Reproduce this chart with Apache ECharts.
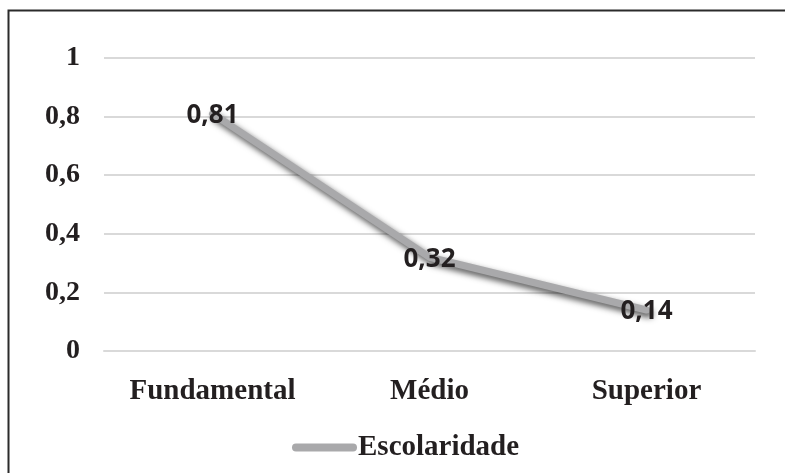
<!DOCTYPE html>
<html>
<head>
<meta charset="utf-8">
<script src="https://cdn.jsdelivr.net/npm/echarts@6/dist/echarts.min.js"></script>
<style>
  html, body { margin: 0; padding: 0; background: #fff; }
  #chart { width: 785px; height: 473px; }
</style>
</head>
<body>
<div id="chart"></div>
<script>
// Education level categories and their values
const categories = ['Fundamental', 'Médio', 'Superior'];
const values = [0.81, 0.32, 0.14];
const seriesName = 'Escolaridade';
const yTicks = [0, 0.2, 0.4, 0.6, 0.8, 1];

const serif = '"Liberation Serif", "Times New Roman", serif';
const fmt = v => String(v).replace('.', ',');

const chart = echarts.init(document.getElementById('chart'), null, { renderer: 'canvas' });

chart.setOption({
  backgroundColor: '#ffffff',
  animation: false,
  graphic: [{
    type: 'rect',
    left: 6, top: 8,
    shape: { width: 820, height: 520 },
    style: { fill: 'none', stroke: '#2b2b2b', lineWidth: 2 },
    silent: true
  }],
  grid: { left: 104, right: 30, top: 58, bottom: 122 },
  legend: {
    data: [seriesName],
    left: 287, top: 428,
    itemWidth: 57, itemHeight: 8,
    itemGap: 0,
    itemStyle: { color: '#a9a9ab', opacity: 0 },
    lineStyle: { width: 8, color: '#a9a9ab', shadowBlur: 0, shadowColor: 'transparent', shadowOffsetX: 0, shadowOffsetY: 0 },
    textStyle: { fontFamily: serif, fontWeight: 'bold', fontSize: 29, color: '#231f20' }
  },
  xAxis: {
    type: 'category',
    data: categories,
    boundaryGap: true,
    axisLine: { show: true, lineStyle: { color: '#d9d9d9', width: 2 } },
    axisTick: { show: false },
    axisLabel: { margin: 26, fontFamily: serif, fontWeight: 'bold', fontSize: 29, color: '#231f20' }
  },
  yAxis: {
    type: 'value',
    min: yTicks[0], max: yTicks[yTicks.length - 1], interval: 0.2,
    axisLine: { show: false },
    axisTick: { show: false },
    splitLine: { lineStyle: { color: '#d9d9d9', width: 2 } },
    axisLabel: {
      margin: 24, fontFamily: serif, fontWeight: 'bold', fontSize: 28, color: '#231f20',
      formatter: v => fmt(+v.toFixed(1))
    }
  },
  series: [{
    name: seriesName,
    type: 'line',
    data: values,
    symbol: 'circle',
    symbolSize: 1,
    showSymbol: true,
    lineStyle: {
      color: '#a9a9ab', width: 7, cap: 'round', join: 'round',
      shadowColor: 'rgba(0,0,0,0.7)', shadowBlur: 6, shadowOffsetX: 3, shadowOffsetY: 4
    },
    itemStyle: { color: 'rgba(0,0,0,0)' },
    label: {
      show: true,
      position: 'inside',
      offset: [0, 2],
      formatter: p => fmt(p.value),
      fontFamily: '"Open Sans", sans-serif',
      fontWeight: 'bold',
      fontSize: 26,
      color: '#231f20'
    },
    z: 3
  }]
});
</script>
</body>
</html>
